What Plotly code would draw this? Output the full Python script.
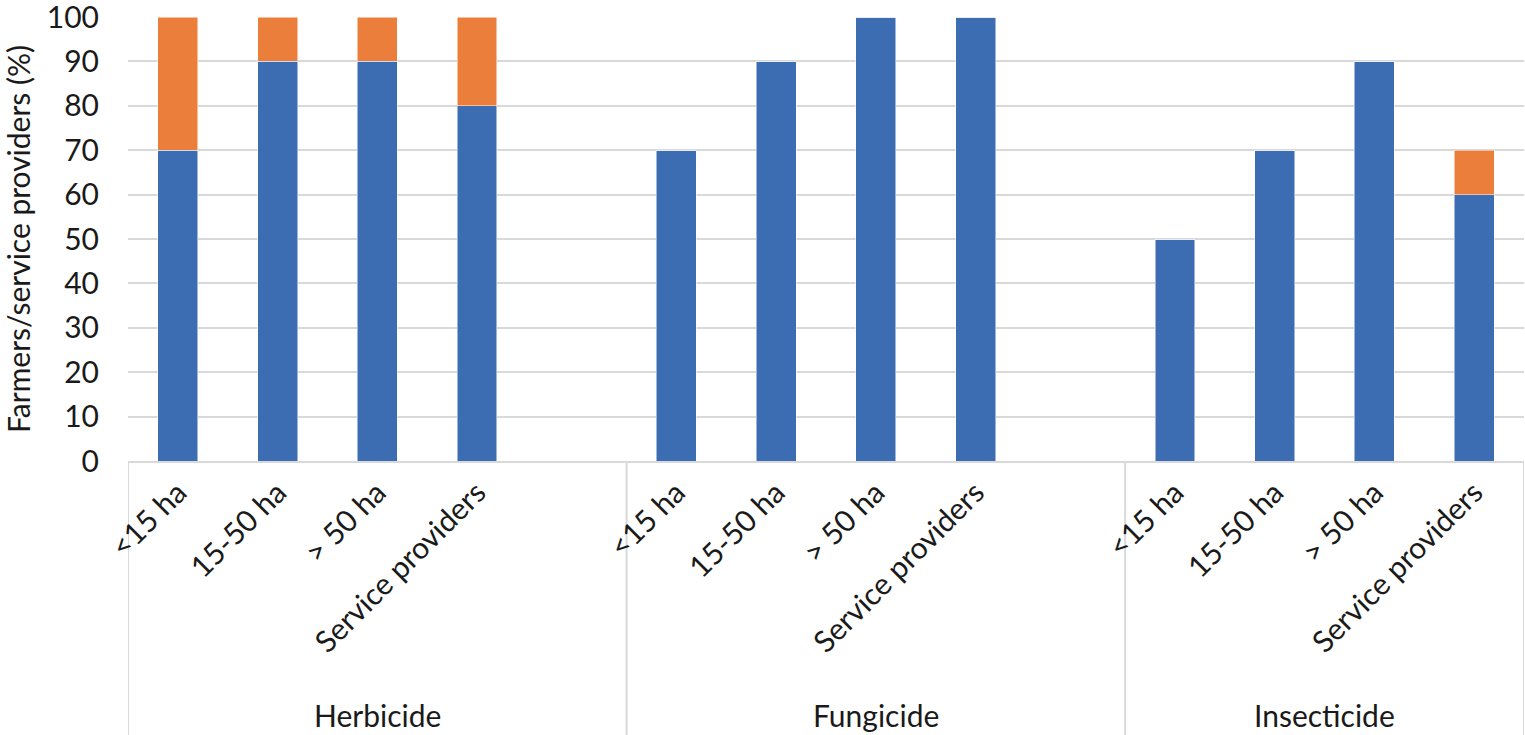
import plotly.graph_objects as go

groups = ["Herbicide", "Fungicide", "Insecticide"]
subcats = ["<15 ha", "15-50 ha", "> 50 ha", "Service providers"]
blue_vals = {
    "Herbicide": [70, 90, 90, 80],
    "Fungicide": [70, 90, 100, 100],
    "Insecticide": [50, 70, 90, 60],
}
orange_vals = {
    "Herbicide": [30, 10, 10, 20],
    "Fungicide": [0, 0, 0, 0],
    "Insecticide": [0, 0, 0, 10],
}
y_ticks = list(range(0, 101, 10))

BLUE = "#3C6DB3"
ORANGE = "#EB7E3B"
FONT = "Lato"
TXT = "#1a1a1a"
FS = 30

# positions: 4 categories per group, one empty slot between groups
xs, labels, bv, ov = [], [], [], []
group_centers, dividers = [], [-0.5]
pos = 0
for gi, g in enumerate(groups):
    start = pos
    for si, s in enumerate(subcats):
        xs.append(pos)
        labels.append(s)
        bv.append(blue_vals[g][si])
        ov.append(orange_vals[g][si])
        pos += 1
    if gi < len(groups) - 1:
        pos += 1  # blank slot
    end = pos - 1
    group_centers.append((start + end) / 2)
    dividers.append(pos - 0.5)

fig = go.Figure()
fig.add_bar(x=xs, y=bv, marker=dict(color=BLUE, line=dict(color="white", width=0.5)),
            width=0.4, name="blue", showlegend=False)
fig.add_bar(x=xs, y=ov, marker=dict(color=ORANGE, line=dict(color="white", width=0.5)),
            width=0.4, name="orange", showlegend=False)

plot_h = 735 - 17 - 274
shapes = []
for d in dividers:
    shapes.append(dict(type="line", xref="x", yref="paper", x0=d, x1=d,
                       y0=0, y1=-274 / plot_h, line=dict(color="#D9D9D9", width=2),
                       layer="below"))

annotations = []
for g, c in zip(groups, group_centers):
    annotations.append(dict(x=c, y=(461 - 715) / plot_h, xref="x", yref="paper",
                            text=g, showarrow=False, xanchor="center", yanchor="middle",
                            font=dict(family=FONT, size=FS, color=TXT)))

fig.update_layout(
    barmode="stack",
    width=1525, height=735,
    margin=dict(l=128, r=1, t=17, b=274, autoexpand=False),
    plot_bgcolor="white", paper_bgcolor="white",
    shapes=shapes, annotations=annotations,
    font=dict(family=FONT, size=FS, color=TXT),
)
fig.update_xaxes(
    range=[-0.5, pos - 0.5], tickmode="array", tickvals=xs, ticktext=labels,
    tickangle=-45, showgrid=False, showline=True, linecolor="#D9D9D9", linewidth=2,
    ticks="", tickfont=dict(family=FONT, size=FS, color=TXT), zeroline=False,
    automargin=False,
)
fig.update_yaxes(
    range=[0, 100], tickmode="array", tickvals=y_ticks, automargin=False,
    showgrid=True, gridcolor="#D9D9D9", gridwidth=2, zeroline=False,
    ticklabeloverflow="allow",
    tickfont=dict(family=FONT, size=FS, color=TXT), ticklabelstandoff=28,
    title=dict(text="Farmers/service providers (%)", font=dict(family=FONT, size=FS, color=TXT),
               standoff=12),
)

fig.write_html("out.html", config={"displayModeBar": False},
               post_script="document.body.style.margin='0px';document.body.style.overflow='hidden';")
